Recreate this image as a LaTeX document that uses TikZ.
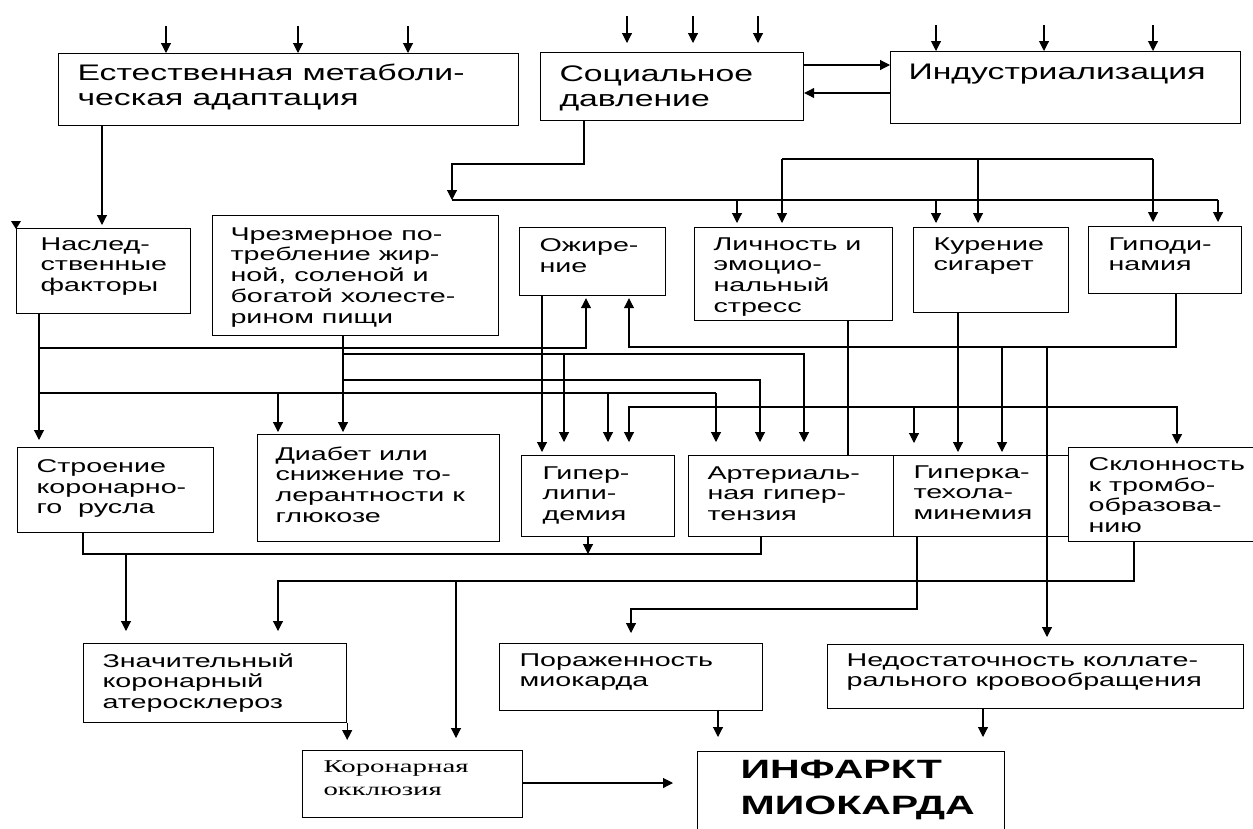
\documentclass[tikz,border=0pt]{standalone}
\usepackage{fontspec}
\setmainfont{Liberation Sans}[FakeStretch=1.55]
\newfontfamily\topfont{Liberation Sans}[FakeStretch=1.5]
\newfontfamily\timesfont{Liberation Serif}[FakeStretch=1.6]
\usetikzlibrary{arrows.meta}

\tikzset{
  box/.style={draw, line width=1.2pt, anchor=north west, inner sep=0pt},
  txt/.style={anchor=north west, align=left, inner sep=0pt, font=\fontsize{18.5}{20.7}\selectfont},
  bigtxt/.style={txt, font=\topfont\fontsize{22.5}{25}\selectfont},
  arr/.style={-{Triangle[length=10pt,width=10pt]}}
}

\begin{document}
\begin{tikzpicture}[x=1pt, y=-1pt, line width=1.1pt]
    \useasboundingbox (0,0) rectangle (1253,828);
    \clip (0,0) rectangle (1253,828);

    % boxes
    \node[box, minimum width=460pt, minimum height=72pt] (meta) at (58,53) {};
    \node[box, minimum width=263pt, minimum height=68pt] (soc) at (540,52) {};
    \node[box, minimum width=350pt, minimum height=72pt] (ind) at (890,51) {};
    \node[box, minimum width=174pt, minimum height=85pt] (her) at (16,228) {};
    \node[box, minimum width=286pt, minimum height=120pt] (diet) at (212,215) {};
    \node[box, minimum width=146pt, minimum height=68pt] (obes) at (519,227) {};
    \node[box, minimum width=198pt, minimum height=93pt] (pers) at (694,227) {};
    \node[box, minimum width=155pt, minimum height=85pt] (smok) at (913,227) {};
    \node[box, minimum width=153pt, minimum height=67pt] (hypo) at (1088,226) {};
    \node[box, minimum width=196pt, minimum height=85pt] (cor) at (17,447) {};
    \node[box, minimum width=242pt, minimum height=107pt] (diab) at (257,434) {};
    \node[box, minimum width=153pt, minimum height=81pt] (lip) at (521,455) {};
    \node[box, minimum width=205pt, minimum height=81pt] (art) at (688,455) {};
    \node[box, minimum width=175pt, minimum height=81pt] (cat) at (893,455) {};
    \node[box, minimum width=188pt, minimum height=94pt] (thr) at (1068,447) {};
    \node[box, minimum width=263pt, minimum height=79pt] (ath) at (83,643) {};
    \node[box, minimum width=263pt, minimum height=67pt] (myo) at (499,643) {};
    \node[box, minimum width=416pt, minimum height=64pt] (col) at (827,644) {};
    \node[box, minimum width=220pt, minimum height=67pt] (occ) at (302,750) {};
    \node[box, minimum width=307pt, minimum height=95pt] (inf) at (697,751) {};

    % texts
    \node[bigtxt] (meta-t) at (77,63) {Естественная метаболи-\\ческая адаптация};
    \node[bigtxt] (soc-t) at (559,65) {Социальное\\давление};
    \node[bigtxt] (ind-t) at (908,63) {Индустриализация};
    \node[txt] (her-t) at (40,237) {Наслед-\\ственные\\факторы};
    \node[txt] (diet-t) at (230,227) {Чрезмерное по-\\требление жир-\\ной, соленой и\\богатой холесте-\\рином пищи};
    \node[txt] (obes-t) at (539,238) {Ожире-\\ние};
    \node[txt] (pers-t) at (713,237) {Личность и\\эмоцио-\\нальный\\стресс};
    \node[txt] (smok-t) at (933,237) {Курение\\сигарет};
    \node[txt] (hypo-t) at (1108,237) {Гиподи-\\намия};
    \node[txt] (cor-t) at (36,459) {Строение\\коронарно-\\го\ \ русла};
    \node[txt] (diab-t) at (275,446) {Диабет или\\снижение то-\\лерантности к\\глюкозе};
    \node[txt] (lip-t) at (542,466) {Гипер-\\липи-\\демия};
    \node[txt] (art-t) at (707,466) {Артериаль-\\ная гипер-\\тензия};
    \node[txt] (cat-t) at (913,465) {Гиперка-\\техола-\\минемия};
    \node[txt] (thr-t) at (1088,457) {Склонность\\к тромбо-\\образова-\\нию};
    \node[txt] (ath-t) at (102,653) {Значительный\\коронарный\\атеросклероз};
    \node[txt] (myo-t) at (519,653) {Пораженность\\миокарда};
    \node[txt] (col-t) at (846,653) {Недостаточность коллате-\\рального кровообращения};
    \node[txt, font=\timesfont\fontsize{18}{23}\selectfont] (occ-t) at (323,760) {Коронарная\\окклюзия};
    \node[txt, font=\bfseries\fontsize{26.5}{36}\selectfont] (inf-t) at (740,760) {ИНФАРКТ\\МИОКАРДА};

    % inputs from above
    \foreach \x in {166,298,408} {
      \coordinate (t) at (\x,26);
      \draw[arr] (t) -- (t |- meta.north);
    }
    \foreach \x in {627,693,758} {
      \coordinate (t) at (\x,16);
      \draw[arr, shorten >=9pt] (t) -- (t |- soc.north);
    }
    \foreach \x in {936,1044,1153} {
      \coordinate (t) at (\x,25);
      \draw[arr] (t) -- (t |- ind.north);
    }

    % top row links
    \coordinate (sa) at (803,65);
    \coordinate (sb) at (803,93);
    \draw[arr] (soc.east |- sa) -- (ind.west |- sa);
    \draw[arr] (ind.west |- sb) -- (soc.east |- sb);
    \coordinate (m1) at (102,125);
    \draw[arr, shorten >=3pt] (meta.south -| m1) -- (her.north -| m1);
    \fill ([shift={(-5pt,7pt)}]her.north west) -- ++(10,0) -- ++(-5,8) -- cycle;

    % social pressure and industrialisation buses
    \coordinate (sd) at (584,164);
    \coordinate (bus1) at (452,200);
    \coordinate (bus1e) at (1218,200);
    \draw[arr] (soc.south -| sd) -- (sd) -| (bus1);
    \draw (bus1) -- (bus1e);
    \foreach \x/\n in {737/pers, 936/smok, 1218/hypo} {
      \coordinate (t) at (\x,200);
      \draw[arr, shorten >=4pt] (t) -- (t |- \n.north);
    }
    \coordinate (bus2) at (782,159);
    \coordinate (bus2e) at (1153,159);
    \draw (bus2) -- (bus2e);
    \foreach \x/\n in {782/pers, 978/smok, 1153/hypo} {
      \coordinate (t) at (\x,159);
      \draw[arr, shorten >=4pt] (t) -- (t |- \n.north);
    }

    % heredity
    \coordinate (h1) at (39,348);
    \coordinate (h2) at (39,393);
    \coordinate (o1) at (586,348);
    \coordinate (h2e) at (716,393);
    \draw[arr, shorten >=7pt] (her.south -| h1) -- (cor.north -| h1);
    \draw[arr, shorten >=2pt] (h1) -- (o1) -- (obes.south -| o1);
    \draw (h2) -- (h2e);
    \foreach \x/\n/\s in {278/diab/2, 608/lip/13, 716/art/13} {
      \coordinate (t) at (\x,393);
      \draw[arr, shorten >=\s pt] (t) -- (t |- \n.north);
    }

    % food
    \coordinate (d1) at (343,354);
    \coordinate (d1m) at (564,354);
    \coordinate (d1e) at (804,354);
    \coordinate (d2) at (343,380);
    \coordinate (d2e) at (760,380);
    \draw[arr, shorten >=2pt] (diet.south -| d1) -- (diab.north -| d1);
    \draw[arr, shorten >=13pt] (d1) -- (d1e) -- (art.north -| d1e);
    \draw[arr, shorten >=13pt] (d1m) -- (lip.north -| d1m);
    \draw[arr, shorten >=13pt] (d2) -- (d2e) -- (art.north -| d2e);

    % obesity
    \coordinate (o2) at (542,300);
    \draw[arr, shorten >=3pt] (obes.south -| o2) -- (lip.north -| o2);

    % hypodynamia
    \coordinate (g1) at (1176,347);
    \coordinate (g2) at (629,347);
    \coordinate (g3) at (1002,347);
    \coordinate (g4) at (1047,347);
    \draw[arr, shorten >=2pt] (hypo.south -| g1) -- (g1) -- (g2) -- (obes.south -| g2);
    \draw[arr, shorten >=3pt] (g3) -- (cat.north -| g3);
    \draw[arr, shorten >=7pt] (g4) -- (col.north -| g4);

    % smoking
    \coordinate (k1) at (958,407);
    \coordinate (k2) at (629,407);
    \coordinate (k3) at (914,407);
    \coordinate (k4) at (1177,407);
    \draw[arr, shorten >=3pt] (smok.south -| k1) -- (cat.north -| k1);
    \draw[arr, shorten >=13pt] (k1) -- (k2) -- (lip.north -| k2);
    \draw[arr, shorten >=12pt] (k3) -- (cat.north -| k3);
    \draw[arr, shorten >=3pt] (k1) -- (k4) -- (thr.north -| k4);

    % personality
    \coordinate (p1) at (848,400);
    \draw (pers.south -| p1) -- (art.north -| p1);

    % lower buses
    \coordinate (c1) at (83,554);
    \coordinate (c2) at (761,554);
    \coordinate (c3) at (588,554);
    \coordinate (c4) at (126,554);
    \draw (cor.south -| c1) -- (c1) -- (c2) -- (art.south -| c2);
    \draw[arr] (lip.south -| c3) -- (c3);
    \draw[arr, shorten >=12pt] (c4) -- (ath.north -| c4);

    \coordinate (r1) at (1134,581);
    \coordinate (r2) at (278,581);
    \coordinate (r3) at (456,581);
    \draw[arr, shorten >=12pt] (thr.south -| r1) -- (r1) -- (r2) -- (ath.north -| r2);
    \draw[arr, shorten >=12pt] (r3) -- (occ.north -| r3);

    \coordinate (q1) at (917,609);
    \coordinate (q2) at (631,609);
    \draw[arr, shorten >=10pt] (cat.south -| q1) -- (q1) -- (q2) -- (myo.north -| q2);

    % to the infarction
    \draw[arr, shorten >=10pt] (ath.south east) -- (ath.south east |- occ.north);
    \coordinate (v1) at (600,783);
    \draw[arr, shorten >=24pt] (occ.east |- v1) -- (inf.west |- v1);
    \coordinate (v2) at (718,720);
    \draw[arr, shorten >=14pt] (myo.south -| v2) -- (inf.north -| v2);
    \coordinate (v3) at (983,720);
    \draw[arr, shorten >=14pt] (col.south -| v3) -- (inf.north -| v3);
\end{tikzpicture}
\end{document}
